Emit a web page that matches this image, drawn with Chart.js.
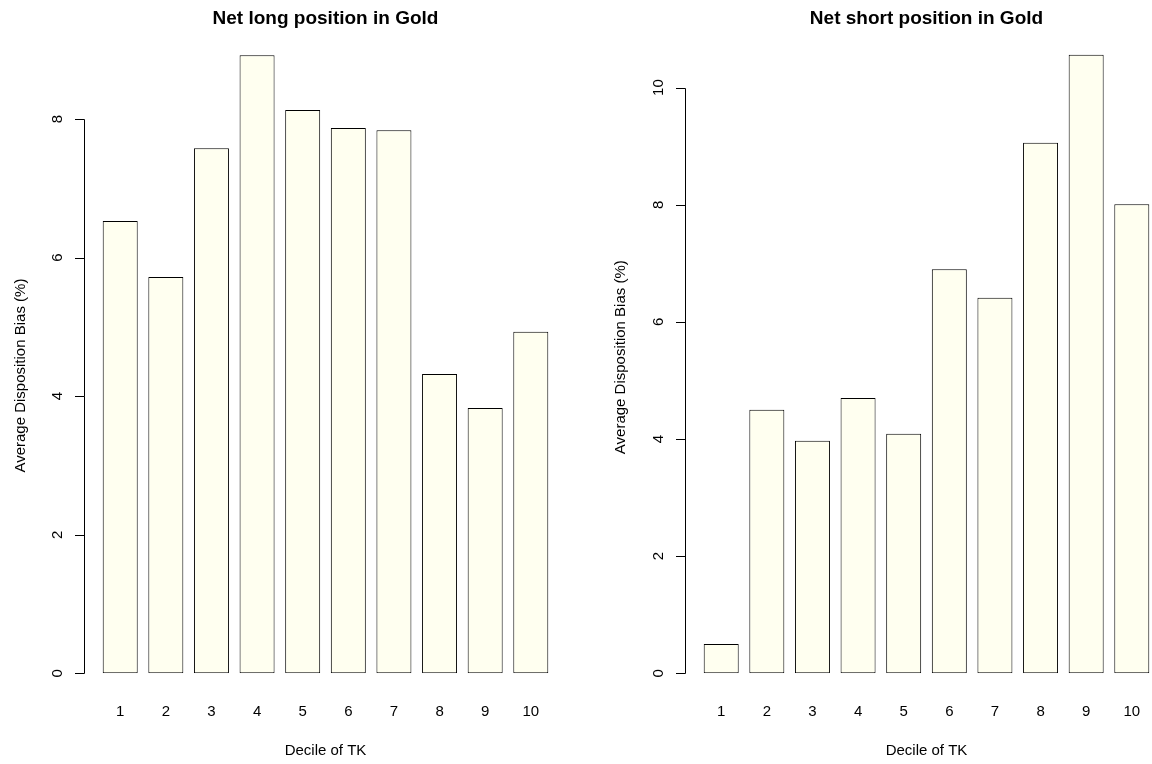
<!DOCTYPE html>
<html><head><meta charset="utf-8">
<script src="https://cdn.jsdelivr.net/npm/chart.js@4/dist/chart.umd.min.js"></script>
<style>
html,body{margin:0;padding:0;background:#fff;overflow:hidden;width:1152px;height:764px;}
canvas{position:absolute;top:0;}
</style></head><body>
<canvas id="c1" width="576" height="764" style="left:0px;width:576px;height:764px"></canvas>
<canvas id="c2" width="580" height="764" style="left:576px;width:580px;height:764px"></canvas>
<script>
const deciles = ['1','2','3','4','5','6','7','8','9','10'];
const longBias = [6.53,5.72,7.58,8.92,8.13,7.87,7.84,4.32,3.83,4.93];
const shortBias = [0.50,4.50,3.97,4.70,4.09,6.90,6.41,9.06,10.56,8.01];
const longTicks = [0,2,4,6,8];
const shortTicks = [0,2,4,6,8,10];
const longTitle = 'Net long position in Gold';
const shortTitle = 'Net short position in Gold';
const xTitle = 'Decile of TK';
const yTitle = 'Average Disposition Bias (%)';

const FONT = "'Liberation Sans', Arial, sans-serif";

const rAxes = {
  id: 'rAxes',
  afterDraw(chart, args, o) {
    const ctx = chart.ctx, ca = chart.chartArea;
    const xs = chart.scales.x, ys = chart.scales.y;
    ctx.save();
    ctx.strokeStyle = '#000';
    ctx.fillStyle = '#000';
    ctx.lineWidth = 1;
    // y axis
    const ax = Math.round(ca.left - 13) + 0.5;
    const t0 = ys.getPixelForValue(o.ticks[0]);
    const t1 = ys.getPixelForValue(o.ticks[o.ticks.length - 1]);
    ctx.beginPath();
    ctx.moveTo(ax, Math.round(t0) + 0.5); ctx.lineTo(ax, Math.round(t1) + 0.5);
    o.ticks.forEach(v => {
      const y = Math.round(ys.getPixelForValue(v)) + 0.5;
      ctx.moveTo(ax, y); ctx.lineTo(ax - 9.5, y);
    });
    ctx.stroke();
    ctx.font = '15px ' + FONT;
    ctx.textAlign = 'center';
    ctx.textBaseline = 'alphabetic';
    o.ticks.forEach(v => {
      const y = ys.getPixelForValue(v);
      ctx.save();
      ctx.translate(ax - 22.4, y);
      ctx.rotate(-Math.PI / 2);
      ctx.fillText(String(v), 0, 0);
      ctx.restore();
    });
    // x labels
    chart.data.labels.forEach((l, i) => {
      ctx.fillText(l, xs.getPixelForValue(i), 716);
    });
    // x title
    const cx = (ca.left + ca.right) / 2;
    ctx.fillText(o.xTitle, cx, 755);
    // y title
    ctx.save();
    ctx.translate(o.yTitleX, o.yTitleY);
    ctx.rotate(-Math.PI / 2);
    ctx.fillText(o.yTitle, 0, 0);
    ctx.restore();
    // main title
    ctx.font = 'bold 19px ' + FONT;
    ctx.fillText(o.title, cx, 24);
    ctx.restore();
  }
};

function makeChart(id, values, max, ticks, title, padL, padR, yTitleX, yTitleY) {
  return new Chart(document.getElementById(id), {
    type: 'bar',
    data: {
      labels: deciles,
      datasets: [{
        data: values,
        backgroundColor: '#FFFFF0',
        borderColor: '#000',
        borderWidth: 1,
        borderSkipped: false,
        barPercentage: 0.767,
        categoryPercentage: 1
      }]
    },
    options: {
      responsive: false,
      animation: false,
      devicePixelRatio: 1,
      layout: { padding: { left: padL, right: padR, top: 29, bottom: 90.7 } },
      plugins: {
        legend: { display: false },
        tooltip: { enabled: false },
        rAxes: { ticks: ticks, title: title, xTitle: xTitle, yTitle: yTitle, yTitleX: yTitleX, yTitleY: yTitleY }
      },
      scales: {
        x: { display: false },
        y: { display: false, min: 0, max: max }
      }
    },
    plugins: [rAxes]
  });
}

makeChart('c1', longBias, 9.30, longTicks, longTitle, 97.4, 576 - 97.4 - 456.2, 25, 375.6);
makeChart('c2', shortBias, 11.0, shortTicks, shortTitle, 122.4, 580 - 122.4 - 456.2, 49, 357.2);
</script>
</body></html>
